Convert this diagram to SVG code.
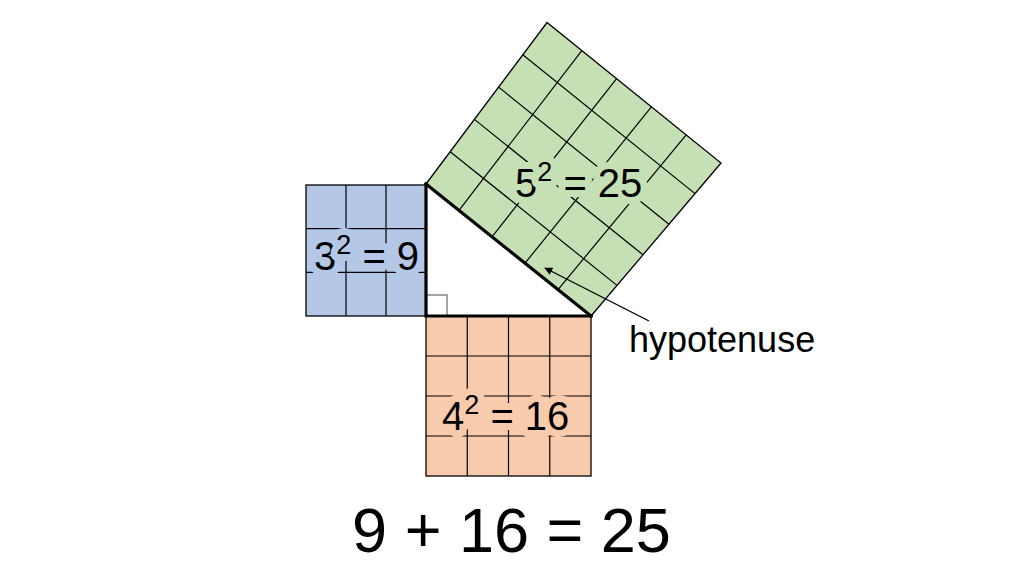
<svg xmlns="http://www.w3.org/2000/svg" width="1024" height="572" viewBox="0 0 1024 572">
<style>
.grid{stroke:#000;stroke-width:1.2;fill:none}
.edge{stroke:#000;stroke-width:1.3;stroke-linejoin:miter}
.thick{stroke:#000;stroke-width:3.2;fill:none;stroke-linecap:square}
.lbl{font-family:"Liberation Sans",Arial,sans-serif;font-size:40px;fill:#000;paint-order:stroke;stroke-width:14;stroke-linejoin:round}
.sup{font-size:27px}
.big{font-family:"Liberation Sans",Arial,sans-serif;font-size:63px;fill:#000}
.note{font-family:"Liberation Sans",Arial,sans-serif;font-size:36px;fill:#000}
</style>
<defs>
<marker id="ah" viewBox="0 0 10 10" refX="9" refY="5" markerWidth="10" markerHeight="8" markerUnits="userSpaceOnUse" orient="auto">
<path d="M0,0 L10,5 L0,10 z" fill="#000"/>
</marker>
</defs>
<rect width="1024" height="572" fill="#fff"/>

<g id="square-green">
<polygon class="edge" points="426,184 547,22.5 721,163 591,316" fill="#c5e0b4"/>
<g class="grid">
<line x1="459" y1="210.4" x2="581.8" y2="50.6"/>
<line x1="492" y1="236.8" x2="616.6" y2="78.7"/>
<line x1="525" y1="263.2" x2="651.4" y2="106.8"/>
<line x1="558" y1="289.6" x2="686.2" y2="134.9"/>
<line x1="450.2" y1="151.7" x2="617" y2="285.4"/>
<line x1="474.4" y1="119.4" x2="643" y2="254.8"/>
<line x1="498.6" y1="87.1" x2="669" y2="224.2"/>
<line x1="522.8" y1="54.8" x2="695" y2="193.6"/>
</g>
<text class="lbl" x="515" y="196.5" stroke="#c5e0b4">5<tspan class="sup" dy="-16">2</tspan><tspan dy="16"> = 25</tspan></text>
</g>

<g id="square-blue">
<rect class="edge" x="306" y="185" width="120" height="131" fill="#b4c7e7"/>
<g class="grid">
<line x1="346" y1="185" x2="346" y2="316"/>
<line x1="386" y1="185" x2="386" y2="316"/>
<line x1="306" y1="228.7" x2="426" y2="228.7"/>
<line x1="306" y1="272.3" x2="426" y2="272.3"/>
</g>
<text class="lbl" x="314" y="270" stroke="#b4c7e7">3<tspan class="sup" dy="-16">2</tspan><tspan dy="16"> = 9</tspan></text>
</g>

<g id="square-orange">
<rect class="edge" x="426" y="316" width="165" height="160" fill="#f8cbad"/>
<g class="grid">
<line x1="467.25" y1="316" x2="467.25" y2="476"/>
<line x1="508.5" y1="316" x2="508.5" y2="476"/>
<line x1="549.75" y1="316" x2="549.75" y2="476"/>
<line x1="426" y1="356" x2="591" y2="356"/>
<line x1="426" y1="396" x2="591" y2="396"/>
<line x1="426" y1="436" x2="591" y2="436"/>
</g>
<text class="lbl" x="442" y="429.5" stroke="#f8cbad">4<tspan class="sup" dy="-16">2</tspan><tspan dy="16"> = 16</tspan></text>
</g>

<g id="triangle">
<rect x="426" y="295" width="21" height="21" fill="none" stroke="#666" stroke-width="1.2"/>
<polyline class="thick" points="426,184 426,316 591,316"/>
<line class="thick" x1="426" y1="184" x2="591" y2="316" stroke-linecap="round"/>
</g>

<g id="connectors">
<line x1="649" y1="321" x2="545" y2="268" stroke="#000" stroke-width="1.4" marker-end="url(#ah)"/>
</g>

<g id="label-hypotenuse">
<text class="note" x="629" y="351.5">hypotenuse</text>
</g>

<g id="equation">
<text class="big" x="511.5" y="551.5" text-anchor="middle">9 + 16 = 25</text>
</g>
</svg>
